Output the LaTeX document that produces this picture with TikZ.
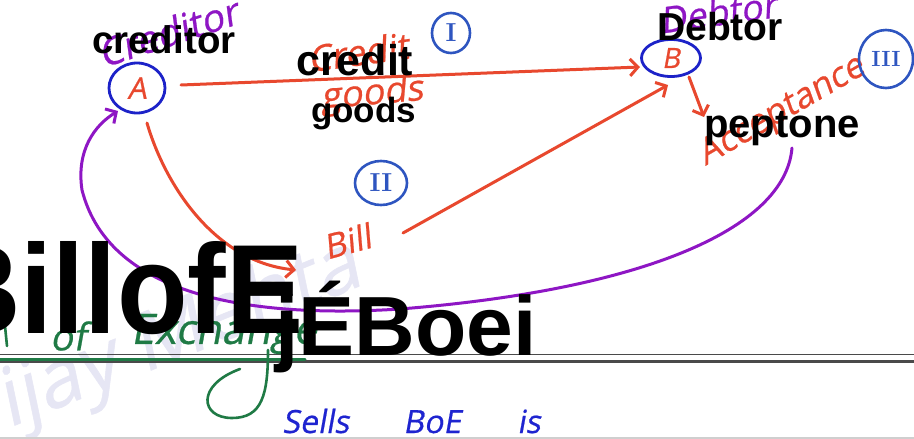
\documentclass[tikz,border=0pt]{standalone}
\usepackage{fontspec}
\usetikzlibrary{arrows.meta,shapes.geometric}
\newfontfamily\ocrfont{Liberation Sans}
\newfontfamily\handfont{Open Sans}[FakeBold=0.6,FakeSlant=0.18]
\definecolor{inkred}{HTML}{E8482E}
\definecolor{inkblue}{HTML}{1C22C8}
\definecolor{ringblue}{HTML}{2E55C0}
\definecolor{inkpurple}{HTML}{8E16C4}
\definecolor{inkgreen}{HTML}{1F7A45}
\definecolor{penblue}{HTML}{1E24D0}
\definecolor{wmark}{HTML}{E6E6F4}
\definecolor{rulegray}{HTML}{4A4A4A}
\definecolor{edgegray}{HTML}{CFCFCF}
\begin{document}
\begin{tikzpicture}[x=1pt,y=-1pt,line cap=round,line join=round,
  ocr/.style={inner sep=0pt,anchor=base west,text=black},
  hand/.style={inner sep=0pt},
  stroke/.style={line width=3pt},
  barb/.style={-{Straight Barb[length=8pt,width=17pt]}},
  ring/.style={draw=ringblue,line width=2.6pt,ellipse,inner sep=0pt,text=ringblue},
  party/.style={draw=inkblue,line width=2.8pt,ellipse,inner sep=0pt,text=inkred}]
% page
\fill[white] (0,0) rectangle (914,439);
\useasboundingbox (0,0) rectangle (914,439);

% faint watermark
\node[hand,anchor=base west,rotate=22,text=wmark] (wm) at (-36,446)
  {\fontsize{80}{80}\handfont Vijay Mehta};

% ruled lines of the page
\draw[rulegray,line width=1.6pt,line cap=butt] (0,354.5) -- (914,354.5);
\draw[rulegray,line width=2.4pt,line cap=butt] (0,361.5) -- (914,361.5);
\draw[edgegray,line width=1.6pt,line cap=butt] (0,438) -- (914,438);
\draw[inkgreen,line width=3pt] (0,359) -- (305,359);

% handwritten title under the diagram
\draw[inkgreen,line width=2.6pt] (5,326) -- (7,346);
\node[hand,text=inkgreen] (of) at (68,336) {\fontsize{38}{38}\handfont of};
\node[hand,text=inkgreen] (exch) at (224,333) {\fontsize{42}{42}\handfont Exchange};
\draw[inkgreen,line width=2.6pt] (268,350) .. controls (268,395) and (262,418) .. (232,418)
  .. controls (200,418) and (196,385) .. (240,369);
\node[hand,text=penblue,anchor=base west] (s1) at (282,433) {\fontsize{32}{32}\handfont Sells};
\node[hand,text=penblue,anchor=base west] (s2) at (403,433) {\fontsize{32}{32}\handfont BoE};
\node[hand,text=penblue,anchor=base west] (s3) at (517,433) {\fontsize{32}{32}\handfont is};

% handwritten labels
\node[hand,text=inkpurple,rotate=18] (lcred) at (168,32) {\fontsize{38}{38}\handfont Creditor};
\node[hand,text=inkpurple,rotate=8] (ldebt) at (718,12) {\fontsize{36}{36}\handfont Debtor};
\node[hand,text=inkred,rotate=8] (lcg1) at (358,52) {\fontsize{36}{36}\handfont Credit};
\node[hand,text=inkred,rotate=5] (lcg2) at (372,95) {\fontsize{36}{36}\handfont goods};
\node[hand,text=inkred,rotate=30] (lacc) at (782,112) {\fontsize{35}{35}\handfont Acceptance};
\node[hand,text=inkred,rotate=15] (lbill) at (347,241) {\fontsize{34}{34}\handfont Bill};

% parties and step numbers
\node[party,minimum width=56,minimum height=50] (A) at (137,88) {\fontsize{30}{30}\handfont A};
\node[party,minimum width=59,minimum height=37] (B) at (671,58) {\fontsize{28}{28}\handfont B};
\node[ring,minimum width=38,minimum height=40] (n1) at (451,33) {\fontsize{26}{26}\bfseries I};
\node[ring,minimum width=52,minimum height=44] (n2) at (381,183) {\fontsize{26}{26}\bfseries II};
\node[ring,minimum width=54,minimum height=58] (n3) at (886,59) {\fontsize{22}{22}\bfseries III};

% connector end points
\coordinate (aOut) at (181,85);
\coordinate (bIn) at (640,67);
\coordinate (aLow) at (147,123);
\coordinate (billIn) at (296,270);
\coordinate (billOut) at (403,233);
\coordinate (bLow) at (668,85);
\coordinate (bDown) at (689,77);
\coordinate (accTip) at (704,117);
\coordinate (accFoot) at (792,148);
\coordinate (pBottom) at (400,309);
\coordinate (pLeft) at (82,190);
\coordinate (aLeft) at (118,111);

% flows
\draw[stroke,inkred,barb] (aOut) -- (bIn);
\draw[stroke,inkred,barb] (aLow) .. controls (165,185) and (215,262) .. (billIn);
\draw[stroke,inkred,barb] (billOut) -- (bLow);
\draw[stroke,inkred,barb] (bDown) -- (accTip);
\draw[stroke,inkpurple,barb] (accFoot) .. controls (785,230) and (640,290) .. (pBottom)
  .. controls (260,318) and (110,300) .. (pLeft)
  .. controls (76,150) and (95,125) .. (aLeft);

% bold captions laid over the drawing
\node[ocr] (tcreditor) at (92,53) {\fontsize{38.5}{38.5}\ocrfont\bfseries creditor};
\node[ocr] (tcredit) at (296,75) {\fontsize{43}{43}\ocrfont\bfseries credit};
\node[ocr] (tgoods) at (311,122) {\fontsize{35}{35}\ocrfont\bfseries goods};
\node[ocr] (tdebtor) at (657,40) {\fontsize{39}{39}\ocrfont\bfseries Debtor};
\node[ocr] (tpeptone) at (704,137) {\fontsize{40}{40}\ocrfont\bfseries peptone};
\node[ocr] (tbill) at (-63,333) {\scalebox{0.91}[1]{\fontsize{127}{127}\ocrfont\bfseries BillofE}};
\node[ocr] (tjeb) at (275,355) {\fontsize{84}{84}\ocrfont\bfseries jÉBoei};
\end{tikzpicture}
\end{document}
